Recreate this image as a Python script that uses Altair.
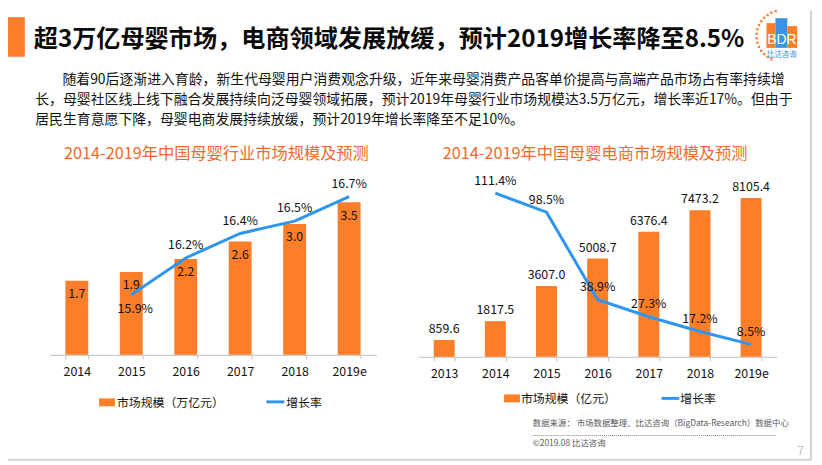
import altair as alt
import pandas as pd

# ---------------- data ----------------
left_years = ["2014", "2015", "2016", "2017", "2018", "2019e"]
left_size = [1.7, 1.9, 2.2, 2.6, 3.0, 3.5]
left_growth = [None, 15.9, 16.2, 16.4, 16.5, 16.7]

right_years = ["2013", "2014", "2015", "2016", "2017", "2018", "2019e"]
right_size = [859.6, 1817.5, 3607.0, 5008.7, 6376.4, 7473.2, 8105.4]
right_growth = [None, 111.4, 98.5, 38.9, 27.3, 17.2, 8.5]

title_text = "超3万亿母婴市场，电商领域发展放缓，预计2019增长率降至8.5%"
para_lines = [
    "随着90后逐渐进入育龄，新生代母婴用户消费观念升级，近年来母婴消费产品客单价提高与高端产品市场占有率持续增",
    "长，母婴社区线上线下融合发展持续向泛母婴领域拓展，预计2019年母婴行业市场规模达3.5万亿元，增长率近17%。但由于",
    "居民生育意愿下降，母婴电商发展持续放缓，预计2019年增长率降至不足10%。",
]
left_title = "2014-2019年中国母婴行业市场规模及预测"
right_title = "2014-2019年中国母婴电商市场规模及预测"
left_legend = ["市场规模（万亿元）", "增长率"]
right_legend = ["市场规模（亿元）", "增长率"]
source_text = "数据来源： 市场数据整理、比达咨询（BigData-Research）数据中心"
copyright_text = "©2019.08  比达咨询"
page_no = "7"

# ---------------- style ----------------
FONT = "Noto Sans CJK SC"
ORANGE = "#FD7E28"
TITLE_ORANGE = "#F36A2B"
BLUE = "#2E96EE"
TEXT = "#111111"
W, H = 814, 457


def txt(text, x, y, size, color=TEXT, weight="normal", align="left", font=FONT):
    return alt.Chart(pd.DataFrame({"t": [text]})).mark_text(
        align=align, baseline="middle", fontSize=size, color=color,
        fontWeight=weight, font=font
    ).encode(x=alt.value(x), y=alt.value(y), text="t:N")


def box(x, x2, y, y2, color, **kw):
    return alt.Chart(pd.DataFrame({"a": [0]})).mark_rect(color=color, **kw).encode(
        x=alt.value(x), x2=alt.value(x2), y=alt.value(y), y2=alt.value(y2)
    )


def rule(x, x2, y, y2, color, width=1, dash=None):
    kw = dict(color=color, strokeWidth=width)
    if dash:
        kw["strokeDash"] = dash
    return alt.Chart(pd.DataFrame({"a": [0]})).mark_rule(**kw).encode(
        x=alt.value(x), x2=alt.value(x2), y=alt.value(y), y2=alt.value(y2)
    )


def panel(years, size, growth, xr, base, size_dom, size_top, g_dom, g_rng,
          pad_inner, below_first, bar_label_dy):
    df = pd.DataFrame({"year": years, "size": size, "growth": growth})
    axis = alt.Axis(
        orient="bottom", offset=-(H - base), tickBand="extent", title=None,
        labelAngle=0, labelFont=FONT, labelFontSize=12.5, labelColor=TEXT,
        domainColor="#BFBFBF", tickColor="#BFBFBF", tickSize=4, labelPadding=7,
    )
    xb = alt.X("year:N", sort=years, axis=axis,
               scale=alt.Scale(type="band", domain=years, range=xr,
                               paddingInner=pad_inner, paddingOuter=pad_inner / 2))
    xp = alt.X("year:N", sort=years, axis=None,
               scale=alt.Scale(type="point", domain=years, range=xr, padding=0.5))
    ys = alt.Y("size:Q", axis=None,
               scale=alt.Scale(domain=size_dom, range=[base, size_top], zero=True))
    yg = alt.Y("growth:Q", axis=None,
               scale=alt.Scale(domain=g_dom, range=g_rng, zero=False))

    bars = alt.Chart(df).mark_bar(color=ORANGE).encode(x=xb, y=ys)
    bar_lbl = alt.Chart(df).mark_text(
        font=FONT, fontSize=12.5, color=TEXT, baseline="middle", dy=bar_label_dy
    ).encode(x=xp, y=ys, text=alt.Text("size:Q", format=".1f"))

    gdf = alt.Chart(df).transform_filter("isValid(datum.growth)")
    line = gdf.mark_line(color=BLUE, strokeWidth=3).encode(x=xp, y=yg)
    glab = gdf.transform_calculate(lab="format(datum.growth, '.1f') + '%'")
    if below_first:
        first = years[1]
        g_above = glab.transform_filter(f"datum.year != '{first}'").mark_text(
            font=FONT, fontSize=12.5, color=TEXT, baseline="middle", dy=-13
        ).encode(x=xp, y=yg, text="lab:N")
        g_below = glab.transform_filter(f"datum.year == '{first}'").mark_text(
            font=FONT, fontSize=12.5, color=TEXT, baseline="middle", dy=14.5, dx=4
        ).encode(x=xp, y=yg, text="lab:N")
        return [bars, bar_lbl, line, g_above, g_below]
    g_above = glab.mark_text(
        font=FONT, fontSize=12.5, color=TEXT, baseline="middle", dy=-12.5
    ).encode(x=xp, y=yg, text="lab:N")
    return [bars, bar_lbl, line, g_above]


layers = []

# slide frame (right / bottom shadow edge)
layers.append(rule(811, 811, 0, 454, "#D2D2D2", 2))
layers.append(rule(0, 811, 454, 454, "#D2D2D2", 2))

# header
layers.append(box(0, 17, 7, 47, ORANGE))
layers.append(txt(title_text, 26, 30, 24.4, "#0A0A0A", "bold"))
layers.append(txt(para_lines[0], 55, 70.5, 14))
layers.append(txt(para_lines[1], 27.5, 90.5, 14))
layers.append(txt(para_lines[2], 27.5, 110.5, 14))

# logo
dots = alt.Chart(alt.sequence(0, 15, as_="i")).transform_calculate(
    a="(205 + datum.i * 10) * PI / 180",
    px="782 + 26 * sin(datum.a)",
    py="26 - 26 * cos(datum.a)",
).mark_square(size=6, color=ORANGE, opacity=0.9).encode(
    x=alt.X("px:Q", scale=None), y=alt.Y("py:Q", scale=None))
layers.append(dots)
layers.append(box(766, 775, 13, 38, ORANGE))
layers.append(box(775, 787, 8, 38, "#3C93E6"))
layers.append(box(787, 797, 16, 38, ORANGE))
layers.append(txt("BDR", 781.5, 30, 14, "white", align="center", font="Liberation Sans"))
layers.append(txt("比达咨询", 781.5, 45, 7.5, "#3C8DE0", align="center"))

# chart titles
layers.append(txt(left_title, 210.5, 145, 16.4, TITLE_ORANGE, align="center"))
layers.append(txt(right_title, 593, 145, 16.4, TITLE_ORANGE, align="center"))

# panels
layers += panel(left_years, left_size, left_growth, [42, 372], 348, [0, 4], 172,
                [15, 17], [399, 151], 0.58, True, 13.5)
layers += panel(right_years, right_size, right_growth, [414.7, 776.3], 350, [0, 10000], 152,
                [0, 120], [350, 172], 0.59, False, -11)

# legends
layers.append(box(92, 108, 392, 400, ORANGE))
layers.append(txt(left_legend[0], 110, 396.5, 12))
layers.append(rule(261, 279, 395.5, 395.5, BLUE, 3))
layers.append(txt(left_legend[1], 281, 396.5, 12))

layers.append(box(501, 517, 388, 396, ORANGE))
layers.append(txt(right_legend[0], 518, 392.5, 12))
layers.append(rule(660, 678, 392, 392, BLUE, 3))
layers.append(txt(right_legend[1], 679, 392.5, 12))

# source / footer
layers.append(txt(source_text, 530, 417, 8.5, "#595959"))
layers.append(rule(530, 775, 429.5, 429.5, "#808080", 1, [1, 1]))
layers.append(txt(copyright_text, 530, 437, 8.5, "#595959"))
layers.append(txt(page_no, 797, 445, 12, "#BFBFBF"))

chart = alt.layer(*layers).properties(
    width=W, height=H, autosize=alt.AutoSizeParams(type="none"), padding=0,
    background="white",
).resolve_scale(x="independent", y="independent").configure_view(stroke=None)

chart.save("out.html", embed_options={"renderer": "svg", "actions": False})
